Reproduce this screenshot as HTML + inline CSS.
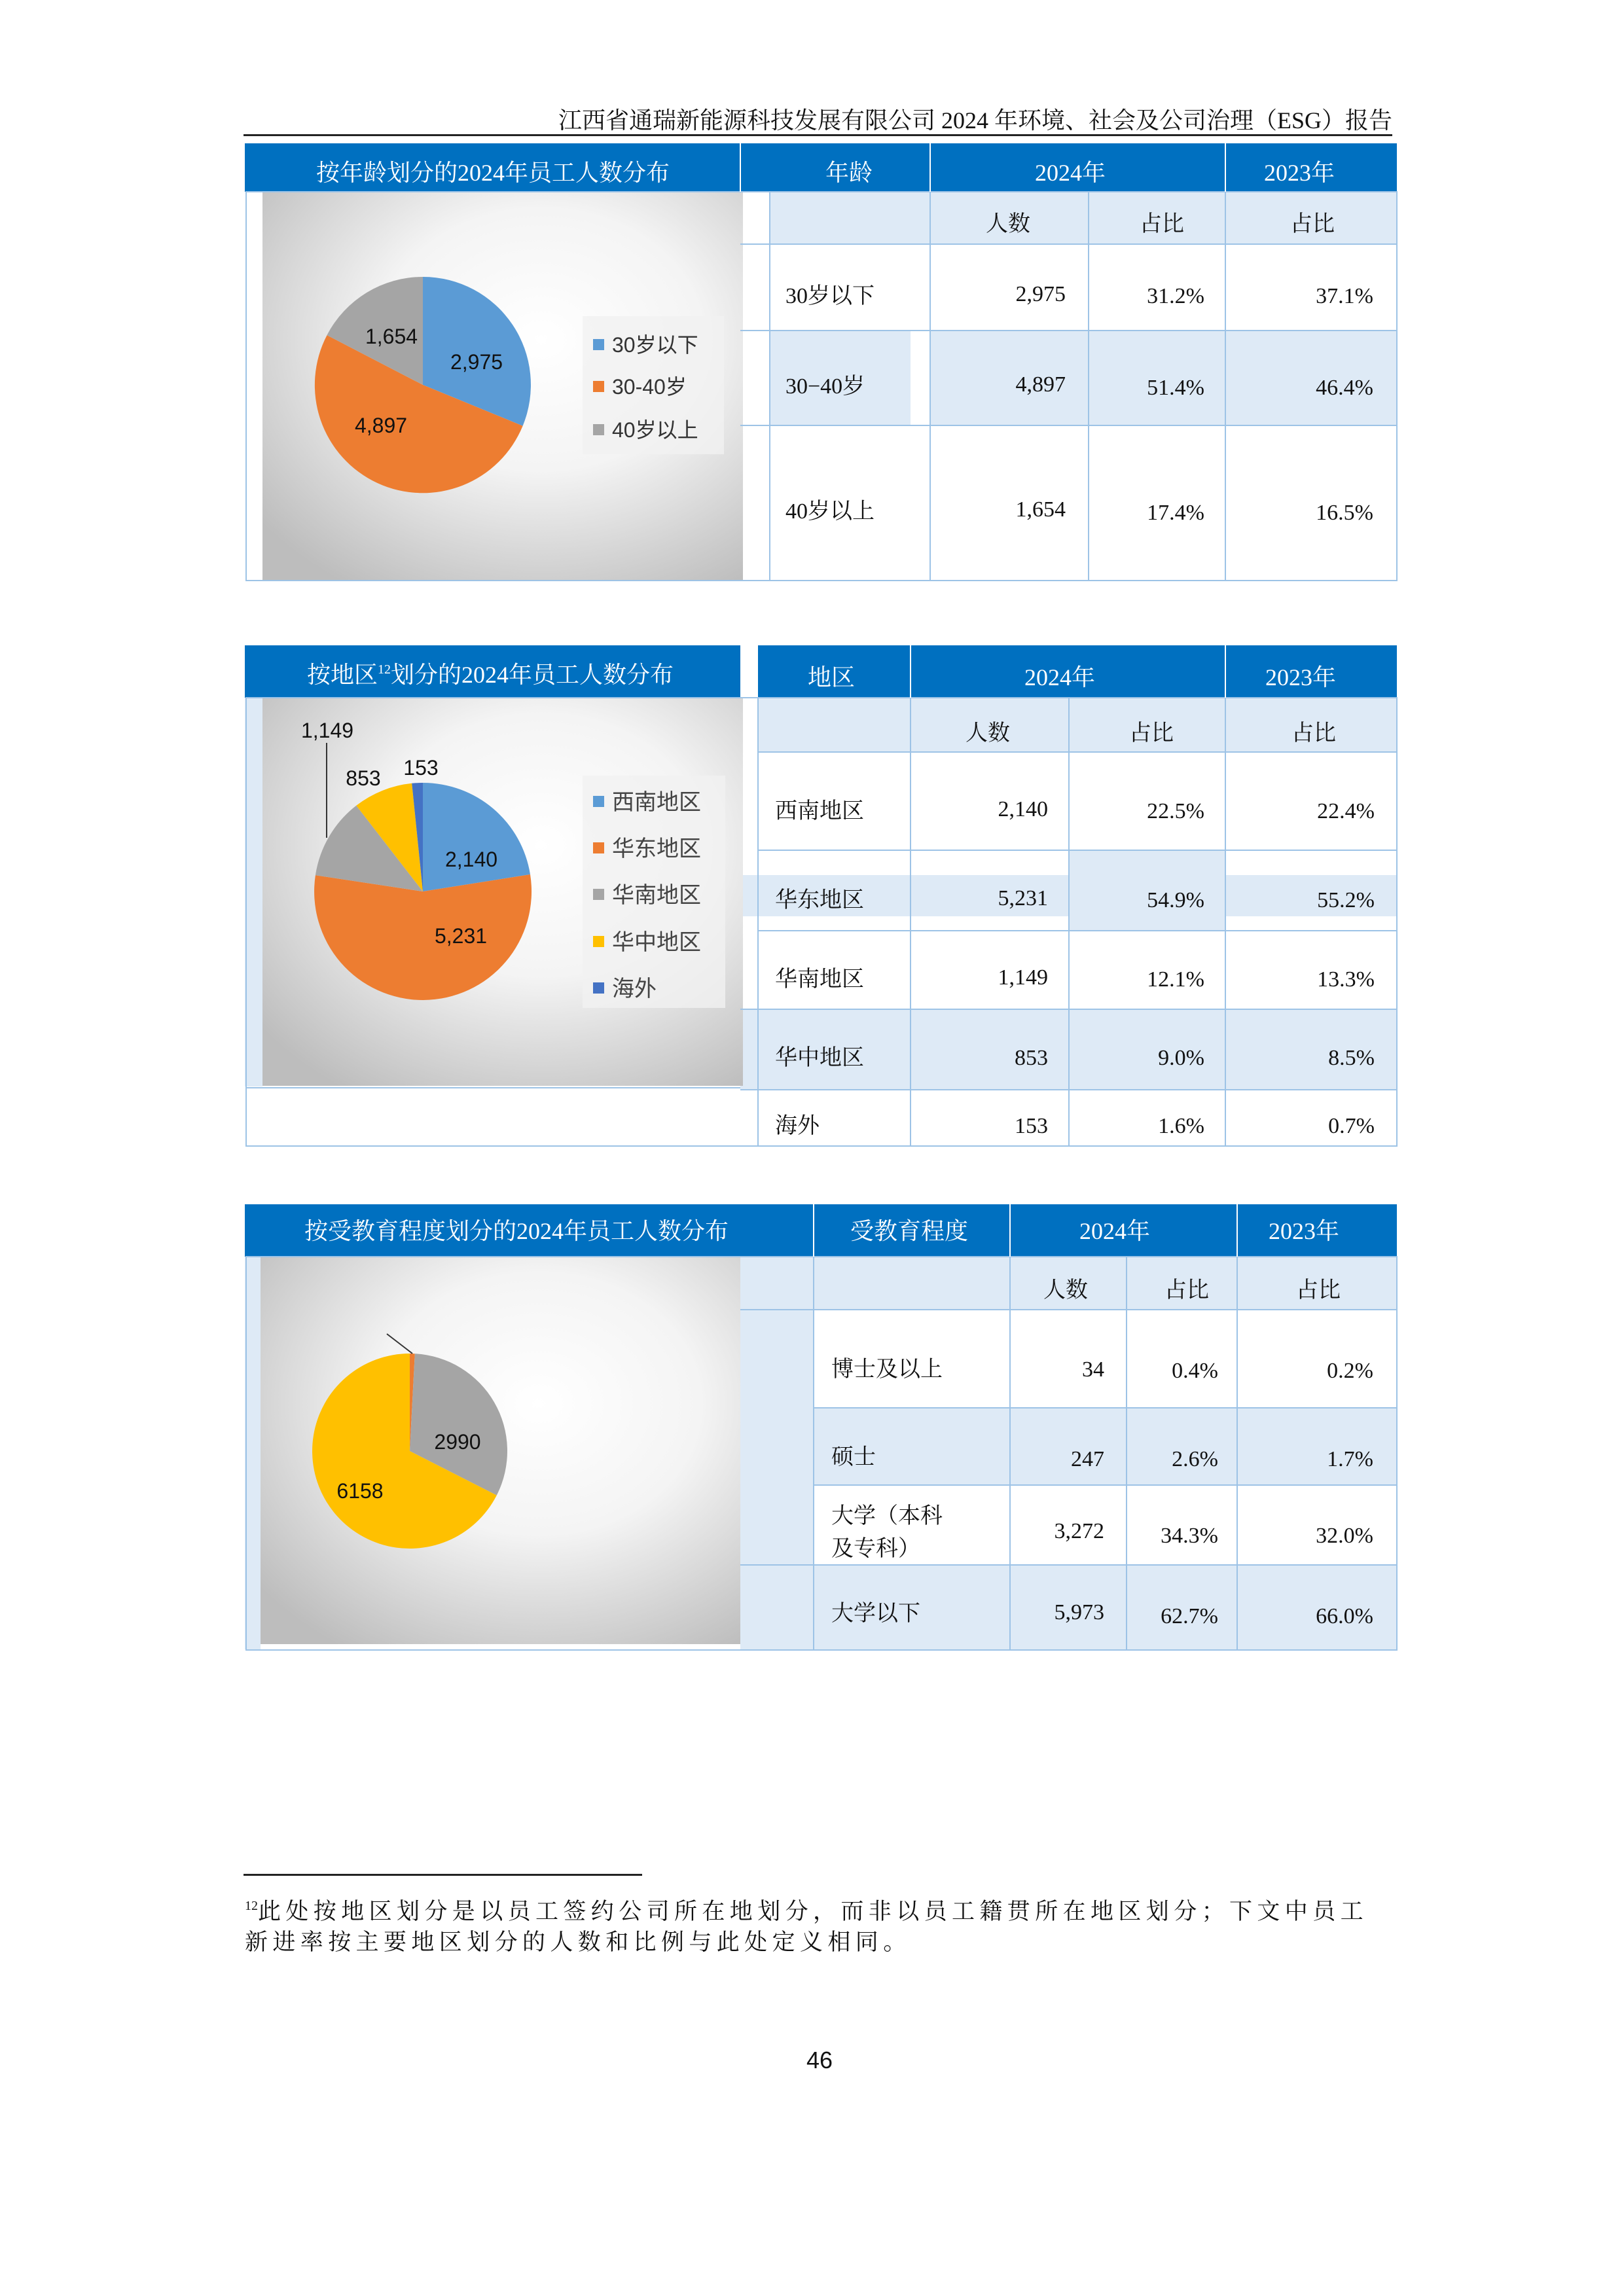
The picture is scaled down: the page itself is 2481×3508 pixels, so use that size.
<!DOCTYPE html>
<html><head><meta charset="utf-8"><style>
html,body{margin:0;padding:0;background:#fff;}
svg{display:block;}
.s{font-family:"Liberation Serif","Noto Serif CJK SC",serif;}
.a{font-family:"Liberation Sans","Noto Sans CJK SC",sans-serif;}
</style></head><body>
<svg width="2481" height="3508" viewBox="0 0 2481 3508" xmlns="http://www.w3.org/2000/svg">
<defs>
<radialGradient id="g" cx="0.58" cy="0.38" r="0.75">
<stop offset="0" stop-color="#ffffff"/><stop offset="0.45" stop-color="#f4f4f4"/><stop offset="1" stop-color="#bdbdbd"/>
</radialGradient>
</defs>
<text x="2127" y="196" text-anchor="end" class="s" font-size="36" fill="#111">江西省通瑞新能源科技发展有限公司 2024 年环境、社会及公司治理（ESG）报告</text>
<rect x="372" y="205" width="1755" height="3" fill="#222"/>

<!-- SECTION 1 -->
<rect x="374" y="219" width="1760" height="74" fill="#0070C0"/>
<rect x="1131" y="293" width="45" height="80" fill="#fff"/>
<rect x="1176" y="293" width="958" height="80" fill="#DEEAF6"/>
<rect x="1176" y="505" width="215" height="145" fill="#DEEAF6"/>
<rect x="1421" y="505" width="713" height="145" fill="#DEEAF6"/>
<rect x="401" y="294" width="734" height="592" fill="url(#g)"/>
<g stroke="#9DC3E6" stroke-width="2" fill="none">
<rect x="376" y="293" width="1758" height="594"/>
<line x1="1176" y1="293" x2="1176" y2="887"/><line x1="1421" y1="219" x2="1421" y2="887"/>
<line x1="1663" y1="293" x2="1663" y2="887"/><line x1="1872" y1="219" x2="1872" y2="887"/>
<line x1="1131" y1="373" x2="2134" y2="373"/><line x1="1131" y1="505" x2="2134" y2="505"/><line x1="1131" y1="650" x2="2134" y2="650"/>
</g>
<g stroke="#fff" stroke-width="2"><line x1="1131" y1="219" x2="1131" y2="293"/><line x1="1421" y1="219" x2="1421" y2="293"/><line x1="1872" y1="219" x2="1872" y2="293"/></g>
<g class="s" font-size="36" fill="#fff" text-anchor="middle">
<text x="753" y="276">按年龄划分的2024年员工人数分布</text>
<text x="1297" y="276">年龄</text><text x="1635" y="276">2024年</text><text x="1985" y="276">2023年</text>
</g>
<g class="s" font-size="34" fill="#111">
<g text-anchor="middle"><text x="1540" y="353">人数</text><text x="1775" y="353">占比</text><text x="2005" y="353">占比</text></g>
<text x="1200" y="463">30岁以下</text><text x="1200" y="601">30−40岁</text><text x="1200" y="792">40岁以上</text>
<g text-anchor="end">
<text x="1628" y="460">2,975</text><text x="1840" y="463">31.2%</text><text x="2098" y="463">37.1%</text>
<text x="1628" y="598">4,897</text><text x="1840" y="603">51.4%</text><text x="2098" y="603">46.4%</text>
<text x="1628" y="789">1,654</text><text x="1840" y="794">17.4%</text><text x="2098" y="794">16.5%</text>
</g></g>
<path d="M646,588 L646,423 A165,165 0 0 1 798.6,650.7 Z" fill="#5B9BD5"/>
<path d="M646,588 L798.6,650.7 A165,165 0 1 1 499.5,512.1 Z" fill="#ED7D31"/>
<path d="M646,588 L499.5,512.1 A165,165 0 0 1 646,423 Z" fill="#A5A5A5"/>
<g class="a" font-size="32" fill="#111" text-anchor="middle">
<text x="598" y="525">1,654</text><text x="728" y="564">2,975</text><text x="582" y="661">4,897</text></g>
<rect x="890" y="483" width="216" height="211" fill="#f1f1f1" opacity="0.8"/>
<g class="a" font-size="32" fill="#333">
<rect x="906" y="518" width="17" height="17" fill="#5B9BD5"/><text x="935" y="538">30岁以下</text>
<rect x="906" y="582" width="17" height="17" fill="#ED7D31"/><text x="935" y="602">30-40岁</text>
<rect x="906" y="648" width="17" height="17" fill="#A5A5A5"/><text x="935" y="668">40岁以上</text>
</g>

<!-- SECTION 2 -->
<rect x="374" y="986" width="757" height="82" fill="#0070C0"/>
<rect x="1158" y="986" width="976" height="80" fill="#0070C0"/>
<rect x="1158" y="1066" width="976" height="83" fill="#DEEAF6"/>
<rect x="1131" y="1337" width="1003" height="63" fill="#DEEAF6"/>
<rect x="1633" y="1299" width="239" height="123" fill="#DEEAF6"/>
<rect x="1131" y="1542" width="1003" height="123" fill="#DEEAF6"/>
<rect x="374" y="1066" width="27" height="594" fill="#DEEAF6"/>
<rect x="401" y="1066" width="734" height="593" fill="url(#g)"/>
<g stroke="#9DC3E6" stroke-width="2" fill="none">
<rect x="376" y="1066" width="1758" height="685"/>
<line x1="376" y1="1662" x2="1131" y2="1662"/>
<line x1="1158" y1="1066" x2="1158" y2="1751"/><line x1="1391" y1="1066" x2="1391" y2="1751"/>
<line x1="1633" y1="1066" x2="1633" y2="1751"/><line x1="1872" y1="1066" x2="1872" y2="1751"/>
<line x1="1158" y1="1149" x2="2134" y2="1149"/><line x1="1158" y1="1299" x2="2134" y2="1299"/>
<line x1="1158" y1="1422" x2="2134" y2="1422"/><line x1="1131" y1="1542" x2="2134" y2="1542"/><line x1="1131" y1="1665" x2="2134" y2="1665"/>
</g>
<g stroke="#fff" stroke-width="2"><line x1="1391" y1="986" x2="1391" y2="1066"/><line x1="1872" y1="986" x2="1872" y2="1066"/></g>
<g class="s" font-size="36" fill="#fff" text-anchor="middle">
<text x="749" y="1043">按地区<tspan font-size="20" dy="-14">12</tspan><tspan dy="14">划分的2024年员工人数分布</tspan></text>
<text x="1270" y="1047">地区</text><text x="1619" y="1047">2024年</text><text x="1987" y="1047">2023年</text>
</g>
<g class="s" font-size="34" fill="#111">
<g text-anchor="middle"><text x="1509" y="1131">人数</text><text x="1759" y="1131">占比</text><text x="2007" y="1131">占比</text></g>
<text x="1184" y="1250">西南地区</text><text x="1184" y="1386">华东地区</text><text x="1184" y="1507">华南地区</text><text x="1184" y="1627">华中地区</text><text x="1184" y="1731">海外</text>
<g text-anchor="end">
<text x="1601" y="1247">2,140</text><text x="1840" y="1250">22.5%</text><text x="2100" y="1250">22.4%</text>
<text x="1601" y="1383">5,231</text><text x="1840" y="1386">54.9%</text><text x="2100" y="1386">55.2%</text>
<text x="1601" y="1504">1,149</text><text x="1840" y="1507">12.1%</text><text x="2100" y="1507">13.3%</text>
<text x="1601" y="1627">853</text><text x="1840" y="1627">9.0%</text><text x="2100" y="1627">8.5%</text>
<text x="1601" y="1731">153</text><text x="1840" y="1731">1.6%</text><text x="2100" y="1731">0.7%</text>
</g></g>
<path d="M646,1362 L646,1196 A166,166 0 0 1 810,1336 Z" fill="#5B9BD5"/>
<path d="M646,1362 L810,1336 A166,166 0 1 1 481.9,1337.2 Z" fill="#ED7D31"/>
<path d="M646,1362 L481.9,1337.2 A166,166 0 0 1 544.3,1230.8 Z" fill="#A5A5A5"/>
<path d="M646,1362 L544.3,1230.8 A166,166 0 0 1 629.2,1196.8 Z" fill="#FFC000"/>
<path d="M646,1362 L629.2,1196.8 A166,166 0 0 1 646,1196 Z" fill="#4472C4"/>
<line x1="499" y1="1135" x2="499" y2="1280" stroke="#333" stroke-width="2"/>
<g class="a" font-size="32" fill="#111" text-anchor="middle">
<text x="500" y="1127">1,149</text><text x="555" y="1200">853</text><text x="643" y="1184">153</text>
<text x="720" y="1324">2,140</text><text x="704" y="1441">5,231</text></g>
<rect x="890" y="1185" width="218" height="355" fill="#f1f1f1" opacity="0.8"/>
<g class="a" font-size="34" fill="#444">
<rect x="906" y="1216" width="17" height="17" fill="#5B9BD5"/><text x="935" y="1237">西南地区</text>
<rect x="906" y="1287" width="17" height="17" fill="#ED7D31"/><text x="935" y="1308">华东地区</text>
<rect x="906" y="1358" width="17" height="17" fill="#A5A5A5"/><text x="935" y="1379">华南地区</text>
<rect x="906" y="1430" width="17" height="17" fill="#FFC000"/><text x="935" y="1451">华中地区</text>
<rect x="906" y="1501" width="17" height="17" fill="#4472C4"/><text x="935" y="1522">海外</text>
</g>

<!-- SECTION 3 -->
<rect x="374" y="1840" width="1760" height="80" fill="#0070C0"/>
<rect x="1131" y="1920" width="1003" height="81" fill="#DEEAF6"/>
<rect x="1131" y="2001" width="112" height="520" fill="#DEEAF6"/>
<rect x="1243" y="2151" width="891" height="118" fill="#DEEAF6"/>
<rect x="1243" y="2391" width="891" height="130" fill="#DEEAF6"/>
<rect x="374" y="1920" width="24" height="600" fill="#DEEAF6"/>
<rect x="398" y="1920" width="733" height="592" fill="url(#g)"/>
<g stroke="#9DC3E6" stroke-width="2" fill="none">
<rect x="376" y="1920" width="1758" height="601"/>
<line x1="1243" y1="1920" x2="1243" y2="2521"/><line x1="1543" y1="1920" x2="1543" y2="2521"/>
<line x1="1721" y1="1920" x2="1721" y2="2521"/><line x1="1890" y1="1920" x2="1890" y2="2521"/>
<line x1="1131" y1="2001" x2="2134" y2="2001"/><line x1="1243" y1="2151" x2="2134" y2="2151"/>
<line x1="1243" y1="2269" x2="2134" y2="2269"/><line x1="1131" y1="2391" x2="2134" y2="2391"/>
</g>
<g stroke="#fff" stroke-width="2"><line x1="1243" y1="1840" x2="1243" y2="1920"/><line x1="1543" y1="1840" x2="1543" y2="1920"/><line x1="1890" y1="1840" x2="1890" y2="1920"/></g>
<g class="s" font-size="36" fill="#fff" text-anchor="middle">
<text x="789" y="1893">按受教育程度划分的2024年员工人数分布</text>
<text x="1389" y="1893">受教育程度</text><text x="1703" y="1893">2024年</text><text x="1992" y="1893">2023年</text>
</g>
<g class="s" font-size="34" fill="#111">
<g text-anchor="middle"><text x="1628" y="1982">人数</text><text x="1813" y="1982">占比</text><text x="2014" y="1982">占比</text></g>
<text x="1270" y="2103">博士及以上</text><text x="1270" y="2237">硕士</text>
<text x="1270" y="2327">大学（本科</text><text x="1270" y="2377">及专科）</text><text x="1270" y="2476">大学以下</text>
<g text-anchor="end">
<text x="1687" y="2103">34</text><text x="1861" y="2105">0.4%</text><text x="2098" y="2105">0.2%</text>
<text x="1687" y="2240">247</text><text x="1861" y="2240">2.6%</text><text x="2098" y="2240">1.7%</text>
<text x="1687" y="2350">3,272</text><text x="1861" y="2357">34.3%</text><text x="2098" y="2357">32.0%</text>
<text x="1687" y="2474">5,973</text><text x="1861" y="2480">62.7%</text><text x="2098" y="2480">66.0%</text>
</g></g>
<path d="M626,2217 L626,2068 A149,149 0 0 1 633.8,2068.2 Z" fill="#ED7D31"/>
<path d="M626,2217 L633.8,2068.2 A149,149 0 0 1 758.8,2284.6 Z" fill="#A5A5A5"/>
<path d="M626,2217 L758.8,2284.6 A149,149 0 1 1 626,2068 Z" fill="#FFC000"/>
<line x1="630" y1="2068" x2="591" y2="2038" stroke="#333" stroke-width="2"/>
<g class="a" font-size="32" fill="#111" text-anchor="middle">
<text x="699" y="2214">2990</text><text x="550" y="2289">6158</text></g>

<rect x="372" y="2863" width="609" height="3" fill="#222"/>
<text x="374" y="2932" class="s" font-size="35" fill="#111" letter-spacing="7.4"><tspan font-size="20" dy="-14" letter-spacing="0">12</tspan><tspan dy="14">此处按地区划分是以员工签约公司所在地划分，而非以员工籍贯所在地区划分；下文中员工</tspan></text>
<text x="374" y="2979" class="s" font-size="35" fill="#111" letter-spacing="7.4">新进率按主要地区划分的人数和比例与此处定义相同。</text>
<text x="1252" y="3160" text-anchor="middle" class="a" font-size="36" fill="#111">46</text>
</svg>
</body></html>
